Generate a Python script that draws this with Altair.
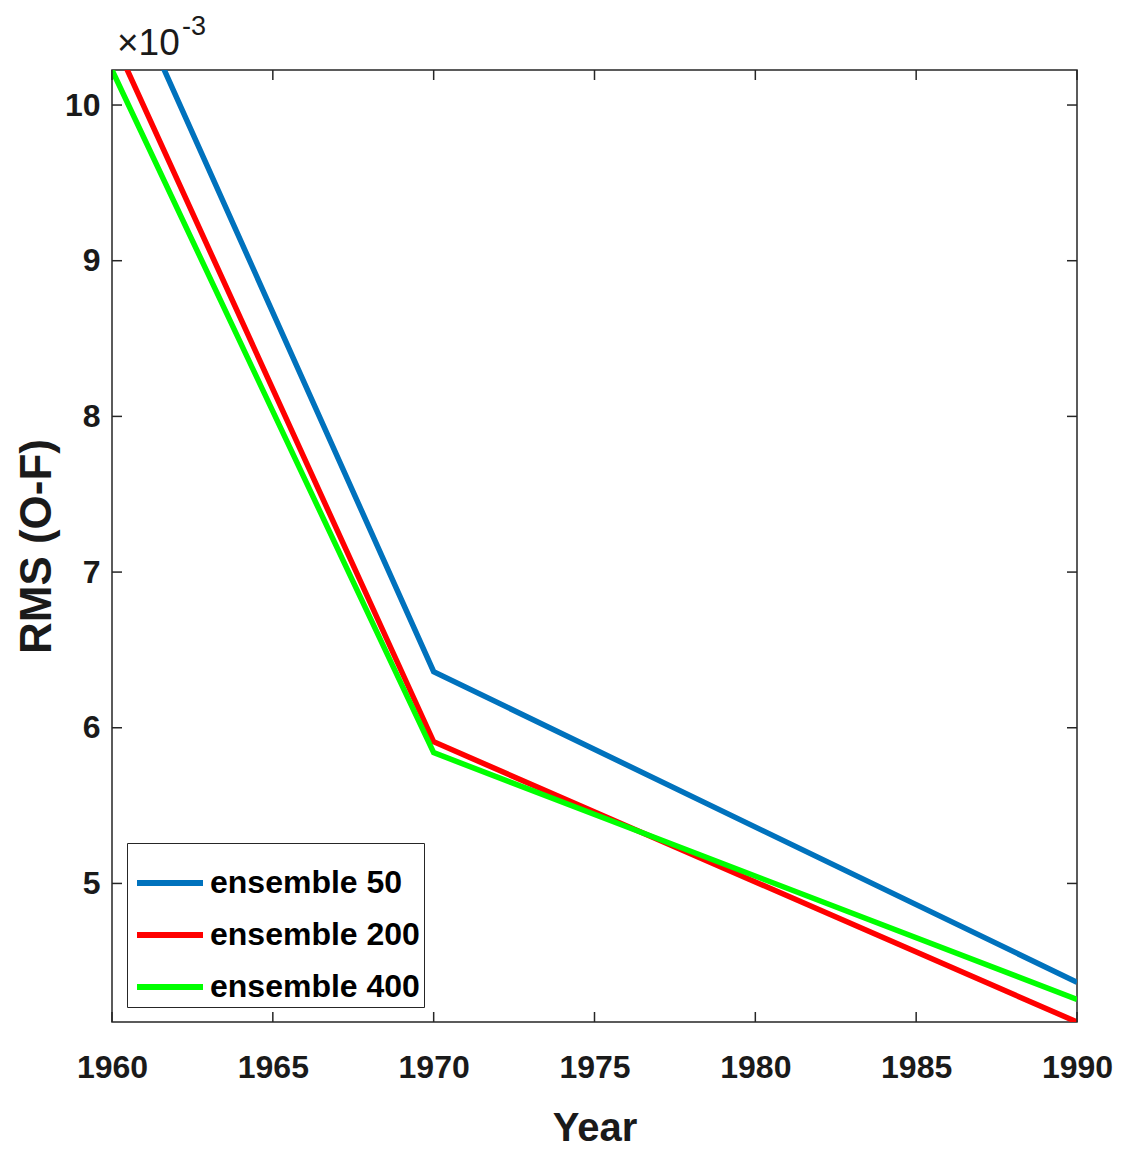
import altair as alt
import pandas as pd

# RMS (O-F) per ensemble size, in units of 1e-3
years = [1960, 1970, 1990]
series_names = ["ensemble 50", "ensemble 200", "ensemble 400"]
rms_ens50 = [10.975, 6.36, 4.365]
rms_ens200 = [10.44, 5.91, 4.11]
rms_ens400 = [10.225, 5.84, 4.255]
series_colors = ["#0072BD", "#FF0000", "#00FF00"]

x_ticks = [1960, 1965, 1970, 1975, 1980, 1985, 1990]
y_ticks = [5, 6, 7, 8, 9, 10]
x_domain = [1960, 1990]
y_domain = [4.11, 10.225]

W, H = 965, 952
TICK = 10
SANS = "Liberation Sans, Arial, Helvetica"
INK = "#1a1a1a"

rows = []
for name, vals in zip(series_names, [rms_ens50, rms_ens200, rms_ens400]):
    for yr, v in zip(years, vals):
        rows.append({"year": yr, "rms": v, "series": name})
lines_df = pd.DataFrame(rows)
xt_df = pd.DataFrame({"year": x_ticks})
yt_df = pd.DataFrame({"rms": y_ticks})

xs = alt.Scale(domain=x_domain, nice=False, zero=False)
ys = alt.Scale(domain=y_domain, nice=False, zero=False)

x_axis = alt.Axis(values=x_ticks, format="d", labelFont=SANS,
                  labelFontSize=32, labelFontWeight="bold",
                  labelColor=INK, labelPadding=30,
                  titleFont=SANS, titleFontSize=40,
                  titleFontWeight="bold", titleColor=INK,
                  titleBaseline="alphabetic", titleY=118,
                  ticks=False, domain=False, grid=False, labelFlush=False)
y_axis = alt.Axis(values=y_ticks, format="d", labelFont=SANS,
                  labelFontSize=32, labelFontWeight="bold",
                  labelColor=INK, labelPadding=12,
                  titleFont=SANS, titleFontSize=44,
                  titleFontWeight="bold", titleColor=INK,
                  titleX=-62, titleBaseline="alphabetic",
                  ticks=False, domain=False, grid=False, labelFlush=False)

X = alt.X("year:Q", scale=xs, title="Year", axis=x_axis)
Y = alt.Y("rms:Q", scale=ys, title="RMS (O-F)", axis=y_axis)

lines = alt.Chart(lines_df).mark_line(strokeWidth=5.5, clip=True).encode(
    x=X,
    y=Y,
    color=alt.Color("series:N",
                    scale=alt.Scale(domain=series_names, range=series_colors),
                    legend=alt.Legend(title=None, orient="none",
                                      legendX=15, legendY=773,
                                      symbolType="stroke", symbolSize=4356,
                                      symbolStrokeWidth=6, symbolOffset=3,
                                      labelFont=SANS, labelFontSize=32,
                                      labelFontWeight="bold",
                                      labelColor="#000000", labelOffset=4,
                                      rowPadding=-17.5, padding=4,
                                      strokeColor="#262626",
                                      fillColor="#ffffff",
                                      labelLimit=400)),
)

rule_style = dict(color="#262626", strokeWidth=1.5)

# inward tick marks on all four sides of the box
x_ticks_bottom = alt.Chart(xt_df).mark_rule(**rule_style).encode(
    x=X, y=alt.value(H - TICK), y2=alt.value(H))
x_ticks_top = alt.Chart(xt_df).mark_rule(**rule_style).encode(
    x=X, y=alt.value(0), y2=alt.value(TICK))
y_ticks_left = alt.Chart(yt_df).mark_rule(**rule_style).encode(
    y=Y, x=alt.value(0), x2=alt.value(TICK))
y_ticks_right = alt.Chart(yt_df).mark_rule(**rule_style).encode(
    y=Y, x=alt.value(W - TICK), x2=alt.value(W))

# axis multiplier "×10^-3" above the top-left corner
one = pd.DataFrame({"k": [0]})
exp_base = alt.Chart(one).mark_text(
    font=SANS, fontSize=37, align="left", baseline="alphabetic",
    color=INK).encode(
    text=alt.value("×10"), x=alt.value(5), y=alt.value(-15))
exp_power = alt.Chart(one).mark_text(
    font=SANS, fontSize=27, align="left", baseline="alphabetic",
    color=INK).encode(
    text=alt.value("-3"), x=alt.value(70), y=alt.value(-35))

chart = alt.layer(
    lines, x_ticks_bottom, x_ticks_top, y_ticks_left, y_ticks_right,
    exp_base, exp_power
).properties(
    width=W, height=H,
    autosize=alt.AutoSizeParams(type="none"),
    padding={"left": 112, "top": 70, "right": 45, "bottom": 128},
    background="white",
).configure_view(stroke="#262626", strokeWidth=1.5)

chart.save("out.html", embed_options={"renderer": "svg", "actions": False})
